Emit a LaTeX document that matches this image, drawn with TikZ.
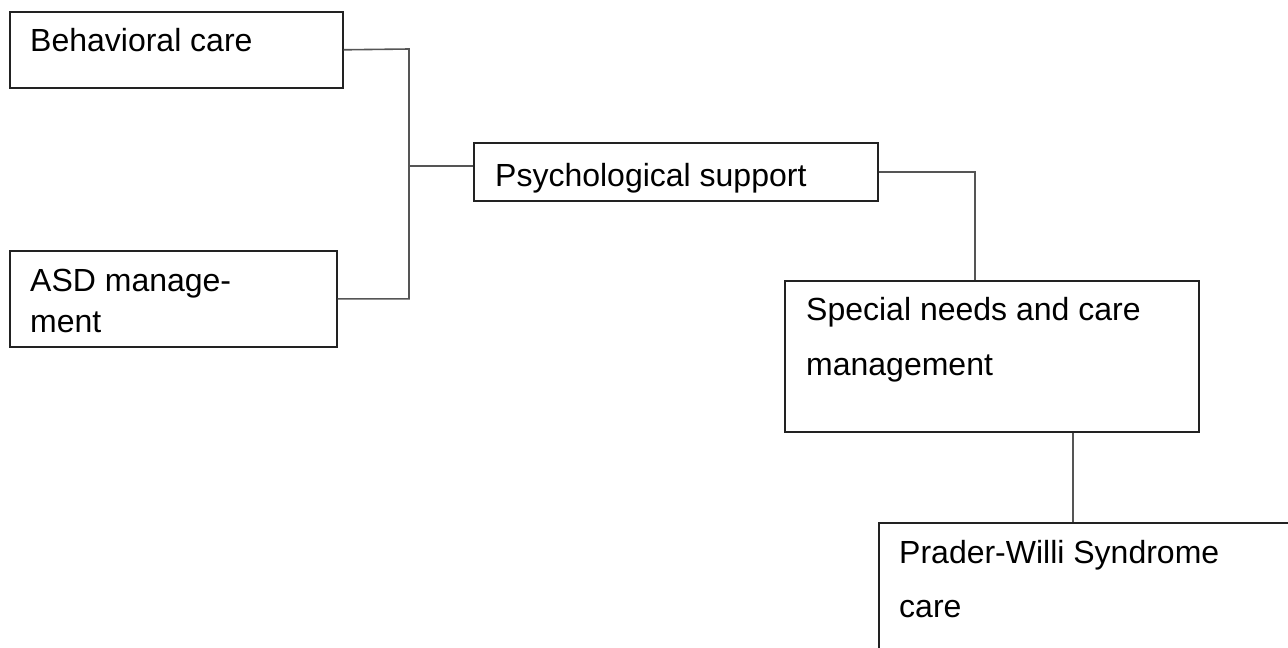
\documentclass[tikz,border=0pt]{standalone}
\usepackage{fontspec}
\setmainfont{Liberation Sans}
\definecolor{boxline}{HTML}{222222}
\definecolor{connline}{HTML}{555555}
\begin{document}
\begin{tikzpicture}[x=1pt,y=-1pt,
  box/.style={draw=boxline, line width=1.6pt, rectangle, inner sep=0pt, anchor=north west},
  txt/.style={inner sep=0pt, anchor=base west, font=\fontsize{32}{40}\selectfont, text=black},
  conn/.style={draw=connline, line width=1.6pt}]
\useasboundingbox (0,0) rectangle (1288,648);
\clip (0,0) rectangle (1288,648);
\fill[white] (0,0) rectangle (1288,648);
% boxes
\node[box, minimum width=333pt, minimum height=76pt] (beh) at (9,11) {};
\node[box, minimum width=327pt, minimum height=96pt] (asd) at (9,250) {};
\node[box, minimum width=404pt, minimum height=58pt] (psy) at (473,142) {};
\node[box, minimum width=414pt, minimum height=151pt] (spec) at (784,280) {};
\node[box, minimum width=430pt, minimum height=150pt] (pws) at (878,522) {};
% texts
\node[txt] (tbeh) at (30,51) {Behavioral care};
\node[txt] (tasd1) at (30,291) {ASD manage-};
\node[txt] (tasd2) at (30,332) {ment};
\node[txt] (tpsy) at (495,186) {Psychological support};
\node[txt] (tspec1) at (806,320) {Special needs and care};
\node[txt] (tspec2) at (806,375) {management};
\node[txt] (tpws1) at (899,563) {Prader-Willi Syndrome};
\node[txt] (tpws2) at (899,617) {care};
% connectors
\coordinate (jt) at (409,49);
\coordinate (c1) at (975,172);
\coordinate (c2) at (1073,431);
\draw[conn] (beh.east) -- (jt) -- (jt |- asd.east) -- (asd.east);
\draw[conn] (jt |- 0,166) -- (psy.west |- 0,166);
\draw[conn] (psy.east) -| (c1 |- spec.north);
\draw[conn] (c2 |- spec.south) -- (c2 |- pws.north);
\end{tikzpicture}
\end{document}
